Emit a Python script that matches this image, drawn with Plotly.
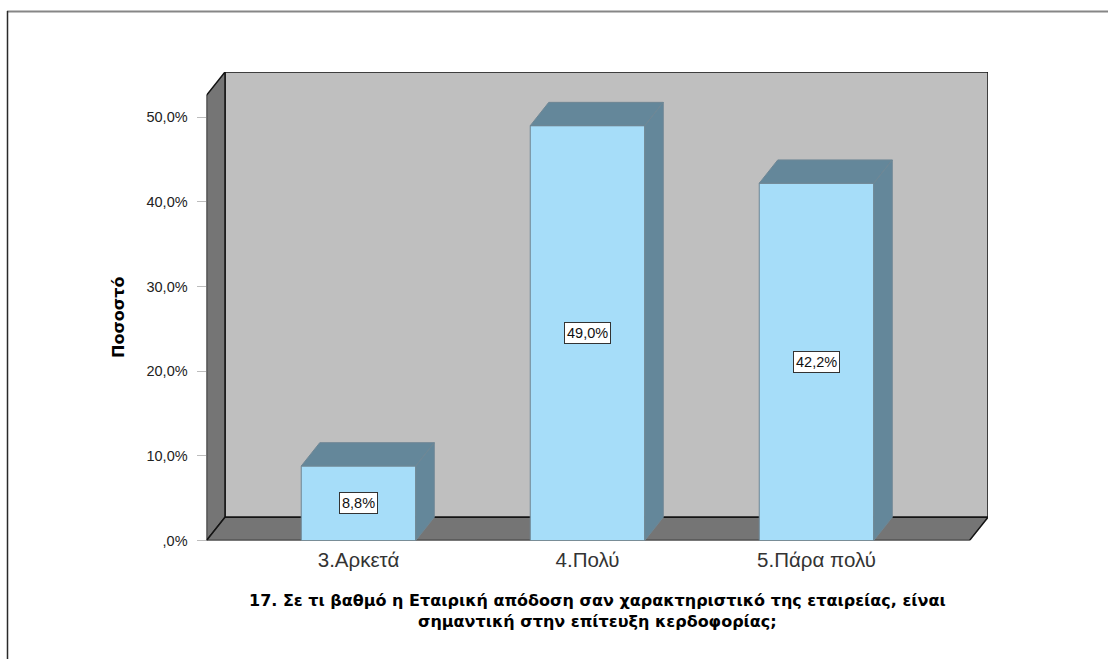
import plotly.graph_objects as go

# Survey results
categories = ["3.Αρκετά", "4.Πολύ", "5.Πάρα πολύ"]
percentages = [8.8, 49.0, 42.2]
value_labels = ["8,8%", "49,0%", "42,2%"]
y_ticks = [0, 10, 20, 30, 40, 50]
y_tick_labels = [",0%", "10,0%", "20,0%", "30,0%", "40,0%", "50,0%"]
x_title = "17. Σε τι βαθμό η Εταιρική απόδοση σαν χαρακτηριστικό της εταιρείας, είναι<br>σημαντική στην επίτευξη κερδοφορίας;"
y_title = "Ποσοστό"

WIDTH, HEIGHT = 1108, 659
FONT = "Liberation Sans, Arial, sans-serif"
TITLE_FONT = "DejaVu Sans, Liberation Sans, sans-serif"

# Pseudo-3D box: plot area in pixels and the pixel scale of each axis
LEFT, RIGHT_BACK, TOP_BACK, BOTTOM = 206.5, 988.0, 72.0, 540.5
X_SCALE = 229.0   # px per category
Y_SCALE = 8.466   # px per percentage point
FIRST_CENTER = 358.5
DEPTH_X = 18.5 / X_SCALE
DEPTH_Y = 23.3 / Y_SCALE
BAR_WIDTH = 0.5

x_lo = (LEFT - FIRST_CENTER) / X_SCALE
x_hi = (RIGHT_BACK - FIRST_CENTER) / X_SCALE
y_hi = (BOTTOM - TOP_BACK) / Y_SCALE
x_front_right = x_hi - DEPTH_X
y_front_top = y_hi - DEPTH_Y

WALL = "#bfbfbf"
SIDE = "#757575"
FRONT = "#a6ddf9"
SHADE = "#64879a"
EDGE = "#6f8795"
LINE = "#141414"


def poly(points, fill, line=None, width=1):
    path = "M " + " L ".join(f"{x},{y}" for x, y in points) + " Z"
    return dict(type="path", path=path, xref="x", yref="y", layer="below",
                fillcolor=fill, line=dict(color=line or fill, width=width))


shapes = [
    # Back wall, left wall, floor
    poly([(x_lo + DEPTH_X, DEPTH_Y), (x_hi, DEPTH_Y), (x_hi, y_hi), (x_lo + DEPTH_X, y_hi)], WALL, LINE, 1.5),
    poly([(x_lo, 0), (x_lo + DEPTH_X, DEPTH_Y), (x_lo + DEPTH_X, y_hi), (x_lo, y_front_top)], SIDE, LINE, 1.5),
    poly([(x_lo, 0), (x_front_right, 0), (x_hi, DEPTH_Y), (x_lo + DEPTH_X, DEPTH_Y)], SIDE, LINE, 1.5),
    # Page frame
    dict(type="line", xref="paper", yref="paper", x0=7 / WIDTH, x1=1, y0=1 - 11.5 / HEIGHT, y1=1 - 11.5 / HEIGHT,
         layer="below", line=dict(color="#868686", width=2)),
    dict(type="line", xref="paper", yref="paper", x0=7.5 / WIDTH, x1=7.5 / WIDTH, y0=0, y1=1 - 11 / HEIGHT,
         layer="below", line=dict(color="#2a2a2a", width=1.5)),
]

fig = go.Figure()

# Front faces
fig.add_trace(go.Bar(
    x=list(range(len(categories))), y=percentages, width=BAR_WIDTH,
    marker=dict(color=FRONT, line=dict(color=EDGE, width=1)),
    hoverinfo="skip", cliponaxis=False,
))

# Top and side faces of each bar
for i, value in enumerate(percentages):
    x0, x1 = i - BAR_WIDTH / 2, i + BAR_WIDTH / 2
    fig.add_trace(go.Scatter(
        x=[x0, x1, x1 + DEPTH_X, x0 + DEPTH_X, x0],
        y=[value, value, value + DEPTH_Y, value + DEPTH_Y, value],
        mode="lines", fill="toself", fillcolor=SHADE,
        line=dict(color=EDGE, width=1), hoverinfo="skip",
    ))
    fig.add_trace(go.Scatter(
        x=[x1, x1 + DEPTH_X, x1 + DEPTH_X, x1, x1],
        y=[0, DEPTH_Y, value + DEPTH_Y, value, 0],
        mode="lines", fill="toself", fillcolor=SHADE,
        line=dict(color=EDGE, width=1), hoverinfo="skip",
    ))

# Value labels centred on the front faces
annotations = [
    dict(x=i, y=value / 2, xref="x", yref="y", text=label, showarrow=False,
         font=dict(family=FONT, size=14.5, color="#111111"),
         bgcolor="#ffffff", bordercolor="#333333", borderwidth=1, borderpad=2)
    for i, (value, label) in enumerate(zip(percentages, value_labels))
]
annotations.append(dict(
    x=118 / WIDTH, y=1 - 317 / HEIGHT, xref="paper", yref="paper", text=f"<b>{y_title}</b>",
    xanchor="center", yanchor="middle",
    textangle=-90, showarrow=False, font=dict(family=TITLE_FONT, size=16, color="#000000"),
))
annotations.append(dict(
    x=597 / WIDTH, y=1 - 611 / HEIGHT, xref="paper", yref="paper", text=f"<b>{x_title}</b>",
    xanchor="center", yanchor="middle",
    showarrow=False, align="center", font=dict(family=TITLE_FONT, size=16, color="#000000"),
))

fig.update_layout(
    width=WIDTH, height=HEIGHT,
    autosize=False,
    margin=dict(l=0, r=0, t=0, b=0, autoexpand=False),
    paper_bgcolor="#ffffff", plot_bgcolor="rgba(0,0,0,0)",
    showlegend=False,
    shapes=shapes,
    annotations=annotations,
    xaxis=dict(
        domain=[LEFT / WIDTH, RIGHT_BACK / WIDTH],
        range=[x_lo, x_hi],
        tickmode="array", tickvals=list(range(len(categories))), ticktext=categories,
        ticks="", showgrid=False, zeroline=False, showline=False,
        ticklabelstandoff=5,
        tickfont=dict(family=FONT, size=20.5, color="#333333"),
    ),
    yaxis=dict(
        domain=[1 - BOTTOM / HEIGHT, 1 - TOP_BACK / HEIGHT],
        range=[0, y_hi],
        tickmode="array", tickvals=y_ticks, ticktext=y_tick_labels,
        ticks="outside", ticklen=9, tickwidth=1, tickcolor="#bdbdbd",
        ticklabelstandoff=6,
        showgrid=False, zeroline=False, showline=False,
        tickfont=dict(family=FONT, size=14.5, color="#222222"),
    ),
)

fig.write_html("out.html")
